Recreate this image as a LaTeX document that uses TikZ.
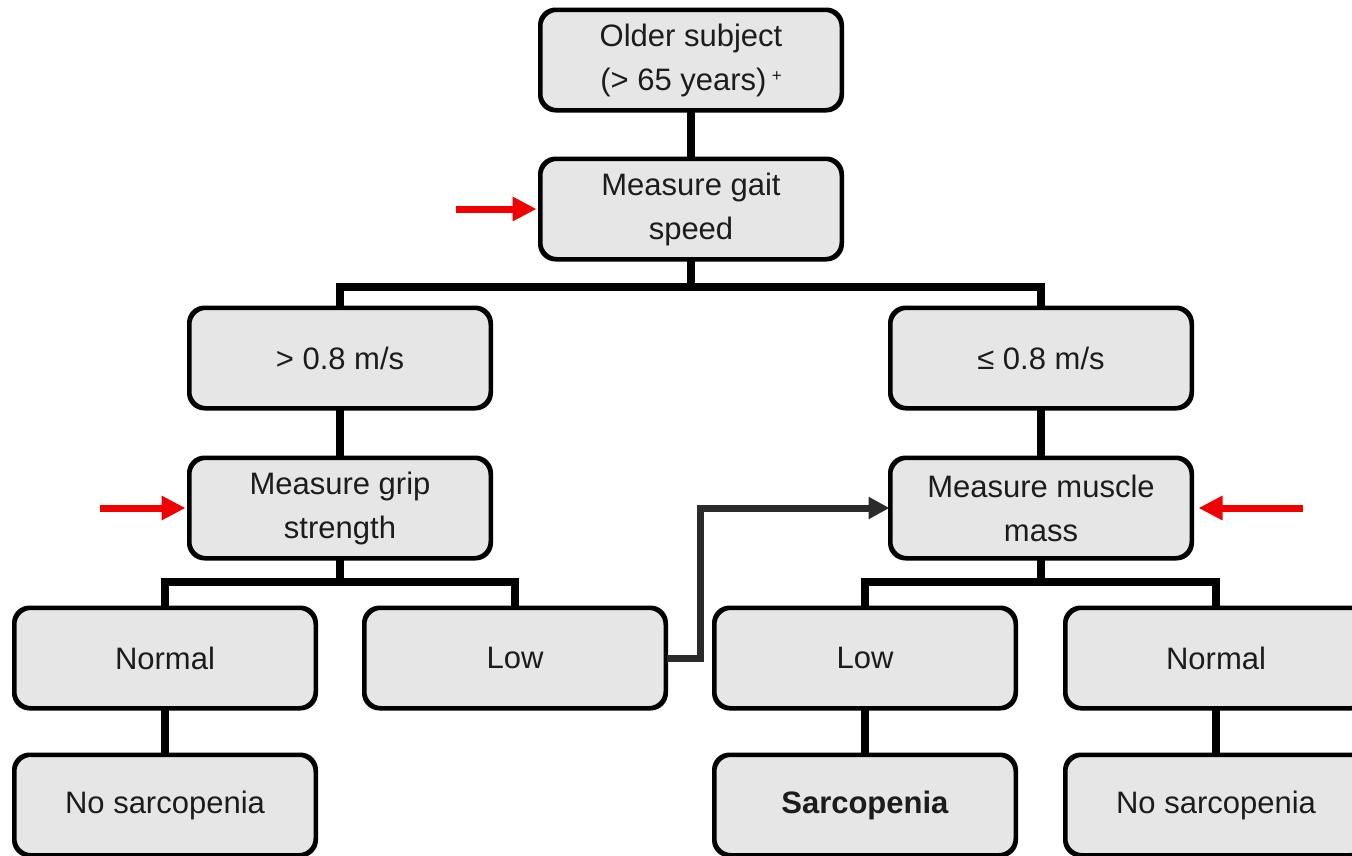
\documentclass[tikz,border=0pt]{standalone}
\usepackage{fontspec}
\setmainfont{Liberation Sans}
\usetikzlibrary{arrows.meta}
\definecolor{boxfill}{HTML}{E6E6E6}
\definecolor{txt}{HTML}{1C1C1C}
\definecolor{darr}{HTML}{2B2B2B}
\definecolor{redarr}{HTML}{F20000}
\tikzset{
  stepbox/.style={draw=black, line width=3pt, fill=boxfill, rounded corners=16pt,
    minimum width=300pt, minimum height=99pt, inner sep=0pt, align=center,
    text=txt, font=\fontsize{31}{44}\selectfont},
  conn/.style={draw=black, line width=8pt, line join=miter},
  darrow/.style={draw=darr, line width=7pt, line join=miter, -{Triangle[length=21pt,width=21pt]}},
  redarrow/.style={draw=redarr, line width=7pt, -{Triangle[length=24pt,width=23pt]}, shorten >=3pt}
}
\begin{document}
\begin{tikzpicture}[x=1pt,y=-1pt]
\fill[white] (0,0) rectangle (1352,855);
\useasboundingbox (0,0) rectangle (1352,855);
\clip (0,0) rectangle (1352,855);
% nodes
\node[stepbox] (top) at (691,60) {Older subject\\ (> 65 years)\,\raisebox{0.55ex}{\fontsize{17}{17}\selectfont +}};
\node[stepbox] (gait) at (691,209) {Measure gait\\speed};
\node[stepbox] (gt) at (340,358) {> 0.8 m/s};
\node[stepbox] (le) at (1041,358) {≤ 0.8 m/s};
\node[stepbox] (grip) at (340,508) {Measure grip\\strength};
\node[stepbox] (mm) at (1041,508) {Measure muscle\\mass};
\node[stepbox] (n1) at (165,658) {Normal};
\node[stepbox] (low1) at (515,658) {Low};
\node[stepbox] (low2) at (865,658) {Low};
\node[stepbox] (n2) at (1216,658) {Normal};
\node[stepbox] (ns1) at (165,805) {No sarcopenia};
\node[stepbox] (sar) at (865,805) {\textbf{Sarcopenia}};
\node[stepbox] (ns2) at (1216,805) {No sarcopenia};
% bar junctions
\coordinate (b1) at (691,287);
\coordinate (b2) at (340,582);
\coordinate (b3) at (1041,582);
% connectors
\draw[conn] (top.south) -- (gait.north);
\draw[conn] (gait.south) -- (b1);
\draw[conn] (gt.north) |- (b1) -| (le.north);
\draw[conn] (gt.south) -- (grip.north);
\draw[conn] (le.south) -- (mm.north);
\draw[conn] (grip.south) -- (b2);
\draw[conn] (n1.north) |- (b2) -| (low1.north);
\draw[conn] (mm.south) -- (b3);
\draw[conn] (low2.north) |- (b3) -| (n2.north);
\draw[conn] (n1.south) -- (ns1.north);
\draw[conn] (low2.south) -- (sar.north);
\draw[conn] (n2.south) -- (ns2.north);
% redrawn box borders on top of connector ends
\foreach \n in {top,gait,gt,le,grip,mm,n1,low1,low2,n2,ns1,sar,ns2}{
  \draw[line width=3pt, rounded corners=16pt] (\n.south west) rectangle (\n.north east);
}
% link arrow
\draw[darrow] (low1.east) -- ++(34,0) |- (mm.west);
% red arrows
\coordinate (r1) at (456,209);
\coordinate (r2) at (100,508);
\coordinate (r3) at (1303,508);
\draw[redarrow] (r1) -- (gait.west);
\draw[redarrow] (r2) -- (grip.west);
\draw[redarrow] (r3) -- ([xshift=3pt]mm.east);
\end{tikzpicture}
\end{document}
